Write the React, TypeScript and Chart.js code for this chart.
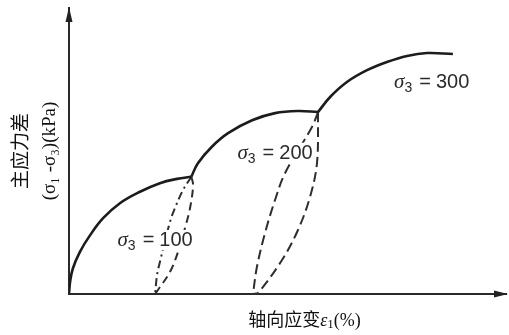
import React, { useEffect, useRef } from 'react';
import { Chart, registerables } from 'chart.js';

Chart.register(...registerables);

// Solid stress–strain curves (axial strain %, deviator stress kPa)
const strain100 = [0, 0.05, 0.18, 0.5, 0.96, 1.56, 2.33, 3.25, 4.16, 4.94, 5.6];
const stress100 = [0, 17, 36, 59, 82, 106, 127, 143, 155, 161, 164];
const strain200 = [5.6, 5.9, 6.54, 7.28, 8.38, 9.43, 10.48, 11.4];
const stress200 = [164, 183, 206, 225, 243, 253, 256, 254.5];
const strain300 = [11.4, 11.95, 12.72, 13.64, 14.55, 15.47, 16.38, 17.57];
const stress300 = [254.5, 275.5, 296.5, 313, 324.5, 333, 337, 335.7];

// Dashed unloading / reloading loops
const loop100aStrain = [5.6, 5.22, 4.85, 4.62, 4.16, 4.03, 3.94];
const loop100aStress = [164, 145.5, 120.3, 100.7, 44.8, 26.6, 0];
const loop100bStrain = [5.6, 5.68, 5.54, 5.31, 4.99, 4.62, 4.07, 3.94];
const loop100bStress = [164, 152.4, 120.3, 92.3, 58.7, 30.8, 5.6, 0];
const loop200aStrain = [11.4, 11.12, 9.89, 9.43, 8.97, 8.6, 8.42];
const loop200aStress = [254.5, 233.6, 169.2, 131.5, 85.3, 37.8, 0];
const loop200bStrain = [11.4, 11.35, 11.03, 10.48, 9.75, 8.65, 8.42];
const loop200bStress = [254.5, 183.2, 135.7, 89.5, 47.6, 1.4, 0];

// Confining pressure labels
const sigma3Values = ['100', '200', '300'];
const labelStrain = [3.94, 9.43, 16.6];
const labelStress = [77, 199, 298];

const xTitleMain = '轴向应变';
const yTitleLines = ['主应力差', '(σ₁ -σ₃)(kPa)'];

const toPoints = (xs: number[], ys: number[]) => xs.map((x, i) => ({ x, y: ys[i] }));

function drawSigma(ctx: CanvasRenderingContext2D, cx: number, cy: number, value: string) {
  const sigmaFont = 'italic 21px "Liberation Serif", serif';
  const subFont = '14px "Liberation Sans", sans-serif';
  const mainFont = '20px "Liberation Sans", sans-serif';
  ctx.font = sigmaFont;
  const wS = ctx.measureText('σ').width;
  ctx.font = subFont;
  const wSub = ctx.measureText('3').width;
  ctx.font = mainFont;
  const wEq = ctx.measureText('=').width;
  const wV = ctx.measureText(value).width;
  const gap1 = 7;
  const gap2 = 5;
  const total = wS + wSub + gap1 + wEq + gap2 + wV;
  let x0 = cx - total / 2;
  ctx.fillStyle = '#ffffff';
  ctx.fillRect(x0 - 2, cy - 9, total + 4, 20);
  ctx.fillStyle = '#2b2b2b';
  ctx.textAlign = 'left';
  ctx.textBaseline = 'alphabetic';
  const base = cy + 7;
  ctx.font = sigmaFont;
  ctx.fillText('σ', x0, base);
  x0 += wS;
  ctx.font = subFont;
  ctx.fillText('3', x0, base + 4);
  x0 += wSub + gap1;
  ctx.font = mainFont;
  ctx.fillText('=', x0, base);
  x0 += wEq + gap2;
  ctx.fillText(value, x0, base);
}

const annotate = {
  id: 'annotate',
  afterDatasetsDraw(chart: any) {
    const { ctx, scales } = chart;
    ctx.save();
    sigma3Values.forEach((v, i) => {
      drawSigma(ctx, scales.x.getPixelForValue(labelStrain[i]), scales.y.getPixelForValue(labelStress[i]), v);
    });
    ctx.restore();
  },
  afterDraw(chart: any) {
    const { ctx, chartArea } = chart;
    const { left, right, top, bottom } = chartArea;
    ctx.save();
    ctx.fillStyle = '#222';
    // y arrow
    ctx.beginPath();
    ctx.moveTo(left, top - 1);
    ctx.lineTo(left - 3.5, top + 14);
    ctx.lineTo(left + 3.5, top + 14);
    ctx.closePath();
    ctx.fill();
    // x arrow
    ctx.beginPath();
    ctx.moveTo(right + 2, bottom);
    ctx.lineTo(right - 12, bottom - 3.5);
    ctx.lineTo(right - 12, bottom + 3.5);
    ctx.closePath();
    ctx.fill();

    // x title
    const mainFont = '18px "Liberation Serif", "Noto Sans CJK SC", serif';
    const epsFont = 'italic 18px "Liberation Serif", serif';
    const subFont = '13px "Liberation Serif", serif';
    ctx.font = mainFont;
    const w1 = ctx.measureText(xTitleMain).width;
    const w3 = ctx.measureText('(%)').width;
    ctx.font = epsFont;
    const w2 = ctx.measureText('ε').width;
    ctx.font = subFont;
    const wSub = ctx.measureText('1').width;
    const total = w1 + w2 + wSub + w3;
    const cx = (left + right) / 2 + 17;
    const base = bottom + 32;
    let x0 = cx - total / 2;
    ctx.fillStyle = '#111';
    ctx.textAlign = 'left';
    ctx.textBaseline = 'alphabetic';
    ctx.font = mainFont;
    ctx.fillText(xTitleMain, x0, base);
    x0 += w1;
    ctx.font = epsFont;
    ctx.fillText('ε', x0, base);
    x0 += w2;
    ctx.font = subFont;
    ctx.fillText('1', x0, base + 2);
    x0 += wSub;
    ctx.font = mainFont;
    ctx.fillText('(%)', x0, base);
    ctx.restore();
  },
};

export default function App() {
  const ref = useRef<HTMLCanvasElement | null>(null);
  useEffect(() => {
    if (!ref.current) return;
    const solid = { borderColor: '#1c1c1c', borderWidth: 2.6, pointRadius: 0, tension: 0.4, fill: false };
    const dashed = { borderColor: '#2e2e2e', borderWidth: 2, pointRadius: 0, tension: 0.35, fill: false };
    const chart = new Chart(ref.current, {
      type: 'line',
      data: {
        datasets: [
          { ...solid, label: 'σ3=100', data: toPoints(strain100, stress100) },
          { ...solid, label: 'σ3=200', data: toPoints(strain200, stress200) },
          { ...solid, label: 'σ3=300', data: toPoints(strain300, stress300) },
          { ...dashed, label: 'loop100a', borderDash: [8, 4, 2, 4], data: toPoints(loop100aStrain, loop100aStress) },
          { ...dashed, label: 'loop100b', borderDash: [8, 5], data: toPoints(loop100bStrain, loop100bStress) },
          { ...dashed, label: 'loop200a', borderDash: [10, 5], data: toPoints(loop200aStrain, loop200aStress) },
          { ...dashed, label: 'loop200b', borderDash: [10, 5], data: toPoints(loop200bStrain, loop200bStress) },
        ],
      },
      options: {
        animation: false,
        responsive: false,
        layout: { padding: { left: 8, right: 3, top: 8, bottom: 41 } },
        plugins: { legend: { display: false }, tooltip: { enabled: false } },
        scales: {
          x: {
            type: 'linear',
            min: 0,
            max: 20,
            ticks: { display: false },
            grid: { display: false, drawTicks: false },
            border: { display: true, color: '#2a2a2a', width: 2 },
          },
          y: {
            type: 'linear',
            min: 0,
            max: 400,
            ticks: { display: false },
            grid: { display: false, drawTicks: false },
            border: { display: true, color: '#2a2a2a', width: 2 },
            title: {
              display: true,
              text: yTitleLines,
              color: '#111',
              font: { family: '"Liberation Serif", "Noto Sans CJK SC", serif', size: 19, lineHeight: 28 / 19 },
              padding: { top: 0, bottom: 5 },
            },
          },
        },
      },
      plugins: [annotate],
    });
    return () => chart.destroy();
  }, []);
  return (
    <div style={{ position: 'fixed', left: 0, top: 0, width: 509, height: 335, background: '#fff' }}>
      <canvas ref={ref} width={509} height={335} style={{ display: 'block' }} />
    </div>
  );
}
